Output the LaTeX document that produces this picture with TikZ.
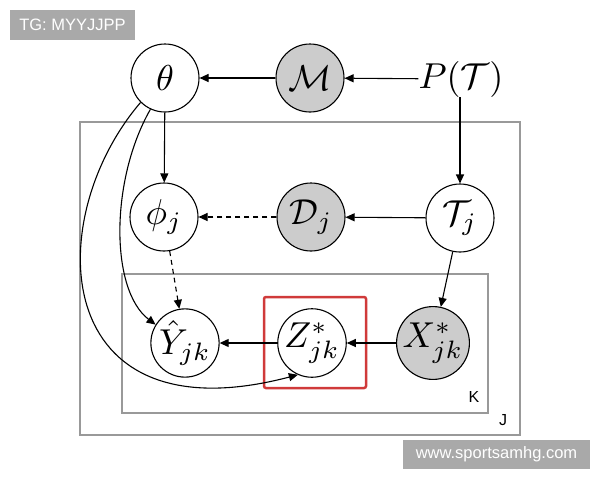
\RequirePackage{fix-cm}
\documentclass[tikz,border=0pt]{standalone}
\usepackage{fontspec}
\newfontfamily\wsans{Liberation Sans}
\usetikzlibrary{arrows.meta}
\definecolor{plategray}{HTML}{999999}
\definecolor{wmgray}{HTML}{A9A9A9}
\definecolor{boxred}{HTML}{D03A3A}
\newcommand{\mlab}[1]{\scalebox{3.6}{\fontsize{10}{12}\selectfont$#1$}}
\tikzset{
 var/.style={circle, draw, fill=white, line width=1.1pt, minimum size=68pt, inner sep=0pt},
 obs/.style={var, fill=gray!40},
 edge/.style={line width=1.1pt, -{Triangle[length=9pt,width=8pt]}},
 dedge/.style={edge, dash pattern=on 5pt off 4pt},
 plate/.style={draw=plategray, line width=1.2pt},
 platelabel/.style={font=\wsans\fontsize{16}{19}\selectfont, inner sep=0pt},
 wm/.style={fill=wmgray, text=white, font=\wsans\fontsize{16.5}{19}\selectfont, inner sep=0pt},
}
\begin{document}
\begin{tikzpicture}[x=1pt,y=-1pt]
\useasboundingbox (0,0) rectangle (600,480);
% plates
\draw[plate] (80,122) rectangle (520,435);
\draw[plate] (122,274) rectangle (488,413);
\node[platelabel] (labK) at (474,397) {K};
\node[platelabel] (labJ) at (503,420) {J};
% highlight box
\node[draw=boxred, line width=2.5pt, rounded corners=2pt, minimum width=102pt, minimum height=91pt, inner sep=0pt] (hl) at (315,342.5) {};
% nodes
\node[var] (theta) at (165,78) {\mlab{\theta}};
\node[obs] (M) at (310,78) {\mlab{\mathcal{M}}};
\node[inner sep=0pt] (PT) at (461,79) {\mlab{P(\mathcal{T})}};
\node[var] (phi) at (164,217) {\mlab{\phi_j}};
\node[obs] (D) at (311,217) {\mlab{\mathcal{D}_j}};
\node[var] (T) at (460,218) {\mlab{\mathcal{T}_j}};
\node[var] (Y) at (185,343) {\mlab{\hat{Y}_{jk}}};
\node[var] (Z) at (312,343) {\mlab{Z^*_{jk}}};
\node[obs] (X) at (433,343) {\mlab{X^*_{jk}}};
% edges
\draw[edge] (M) -- (theta);
\draw[edge] (PT) -- (M);
\draw[edge] (PT.south -| T) -- (T);
\draw[edge] (theta) -- (phi);
\draw[dedge] (D) -- (phi);
\draw[edge] (T) -- (D);
\draw[edge] (T) -- (X);
\draw[dedge] (phi) -- (Y);
\draw[edge] (X) -- (Z);
\draw[edge] (Z) -- (Y);
\draw[edge] (theta.245) .. controls (110,180) and (110,290) .. (Y.148);
\draw[edge] (theta.225) .. controls (40,220) and (50,440) .. (Z.246);
% watermarks
\node[wm, minimum width=125pt, minimum height=30pt] (wm1) at (72.5,25) {TG: MYYJJPP};
\node[wm, minimum width=187pt, minimum height=29pt] (wm2) at (496.5,454.5) {www.sportsamhg.com};
\end{tikzpicture}
\end{document}
